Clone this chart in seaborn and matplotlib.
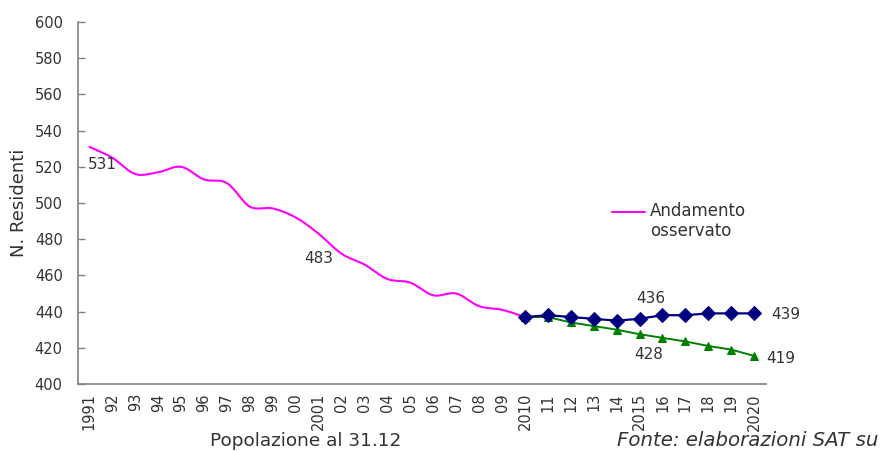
import numpy as np
import pandas as pd
import matplotlib
matplotlib.use('Agg')
import matplotlib.pyplot as plt
from matplotlib.lines import Line2D
import seaborn as sns

# Data
years = list(range(1991, 2021))
tick_labels = ['1991', '92', '93', '94', '95', '96', '97', '98', '99', '00',
               '2001', '02', '03', '04', '05', '06', '07', '08', '09',
               '2010', '11', '12', '13', '14', '2015', '16', '17', '18', '19', '2020']
observed_years = list(range(1991, 2011))
observed = [531, 525, 516, 517, 520, 513, 511, 498, 497, 492,
            483, 472, 466, 458, 456, 449, 450, 443, 441, 437]
proj_years = list(range(2010, 2021))
proj_high = [437, 438, 437, 436, 435, 436, 438, 438, 439, 439, 439]
proj_low = [437, 437, 434, 432, 430, 427.5, 425.5, 423.5, 421, 419, 415.5]


def smooth_curve(x, y, n=20):
    """Bezier smoothing similar to spreadsheet 'smoothed line'."""
    x = np.asarray(x, float)
    y = np.asarray(y, float)
    px = np.concatenate([[x[0]], x, [x[-1]]])
    py = np.concatenate([[y[0]], y, [y[-1]]])
    xs, ys = [], []
    t = np.linspace(0, 1, n, endpoint=False)
    for i in range(1, len(px) - 2):
        p0 = np.array([px[i], py[i]])
        p3 = np.array([px[i + 1], py[i + 1]])
        p1 = p0 + (np.array([px[i + 1], py[i + 1]]) - np.array([px[i - 1], py[i - 1]])) / 6
        p2 = p3 - (np.array([px[i + 2], py[i + 2]]) - np.array([px[i], py[i]])) / 6
        b = ((1 - t) ** 3)[:, None] * p0 + (3 * (1 - t) ** 2 * t)[:, None] * p1 \
            + (3 * (1 - t) * t ** 2)[:, None] * p2 + (t ** 3)[:, None] * p3
        xs.extend(b[:, 0])
        ys.extend(b[:, 1])
    xs.append(x[-1])
    ys.append(y[-1])
    return np.array(xs), np.array(ys)


sns.set_style('white')
plt.rcParams['font.family'] = ['DejaVu Sans']
text_color = '#333333'

fig = plt.figure(figsize=(8.8, 4.51), dpi=100)
ax = fig.add_axes([0.0886, 0.1486, 0.7814, 0.8026])

obs_idx = [years.index(y) for y in observed_years]
proj_idx = [years.index(y) for y in proj_years]

sx, sy = smooth_curve(obs_idx, observed)
obs_df = pd.DataFrame({'x': sx, 'y': sy})
sns.lineplot(data=obs_df, x='x', y='y', color='#FF00FF', lw=1.5, sort=False,
             estimator=None, ax=ax)

low_df = pd.DataFrame({'x': proj_idx, 'y': proj_low})
sns.lineplot(data=low_df, x='x', y='y', color='#008000', lw=1.4, marker='^',
             markersize=6, markeredgecolor='#008000', estimator=None, ax=ax)

high_df = pd.DataFrame({'x': proj_idx, 'y': proj_high})
sns.lineplot(data=high_df, x='x', y='y', color='#000080', lw=1.6, marker='D',
             markersize=7.5, markeredgecolor='#000080', estimator=None, ax=ax)

# Value labels
def label(series_years, values, year, text, dx, dy, ha='center'):
    i = series_years.index(year)
    ax.annotate(text, xy=(years.index(year), values[i]), xytext=(dx, dy),
                textcoords='offset points', ha=ha, va='center',
                fontsize=11, color=text_color)

label(observed_years, observed, 1991, '531', -1, -12.5, ha='left')
label(observed_years, observed, 2001, '483', 0, -17.5)
label(proj_years, proj_high, 2015, '436', 8, 14.5)
label(proj_years, proj_low, 2015, '428', 6.5, -14.5)
label(proj_years, proj_high, 2020, '439', 12, -1, ha='left')
label(proj_years, proj_low, 2020, '419', 9, -1.5, ha='left')

# Axes
ax.set_xlim(-0.5, len(years) - 0.5)
ax.set_ylim(400, 600)
ax.set_yticks(np.arange(400, 601, 20))
ax.set_xticks(np.arange(-0.5, len(years), 1.0))
ax.set_xticklabels([])
ax.set_xticks(np.arange(len(years)), minor=True)
ax.set_xticklabels(tick_labels, minor=True, rotation=90, fontsize=10.5,
                   color=text_color)
ax.tick_params(axis='x', which='major', direction='in', length=5,
               width=1, color='#808080')
ax.tick_params(axis='x', which='minor', length=0, pad=6.5)
ax.tick_params(axis='y', direction='in', length=5, width=1, color='#808080',
               pad=11, labelsize=10.5, labelcolor=text_color, left=True)
sns.despine(ax=ax)
for side in ['left', 'bottom']:
    ax.spines[side].set_color('#808080')
    ax.spines[side].set_linewidth(1.2)

ax.set_xlabel('')
ax.set_ylabel('N. Residenti', fontsize=13, color=text_color, labelpad=5)

# Legend (placed by hand, handle level with the first text line)
fig.add_artist(Line2D([612 / 880, 645 / 880], [1 - 212 / 451, 1 - 212 / 451],
                      color='#FF00FF', lw=1.5, transform=fig.transFigure))
fig.text(650 / 880, 1 - 202 / 451, 'Andamento\nosservato', ha='left', va='top',
         fontsize=12, color=text_color, linespacing=1.15)

fig.text(306 / 880, 1 - 441 / 451, 'Popolazione al 31.12', ha='center',
         va='center', fontsize=13.3, color=text_color)
fig.text(617 / 880, 1 - 441 / 451, 'Fonte: elaborazioni SAT su', ha='left',
         va='center', fontsize=14.2, style='italic', color=text_color)

fig.savefig('out.png', dpi=100)
